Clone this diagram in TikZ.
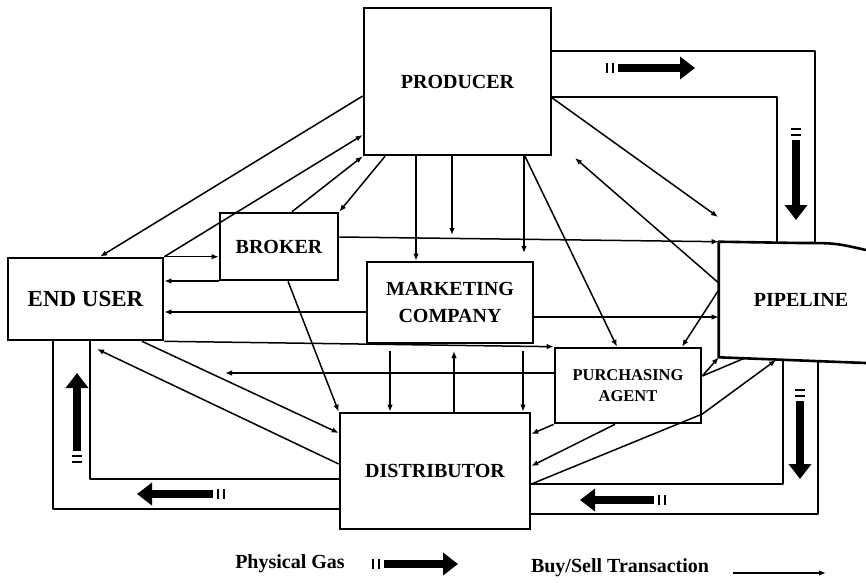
\documentclass[tikz,border=0pt]{standalone}
\usepackage{fontspec}
\setmainfont{Liberation Serif}
\usetikzlibrary{arrows.meta,calc}

% physical gas symbol: two bars at the tail, fat arrow to the head
\newcommand{\gasarrow}[2]{%
    \draw[gas] ($(#1)!12pt!(#2)$) -- (#2);
    \path ($(#1)!1pt!(#2)$) coordinate (gtka) ($(#1)!7pt!(#2)$) coordinate (gtkb);
    \draw[gastick] ($(gtka)!5pt!90:(#2)$) -- ($(gtka)!5pt!-90:(#2)$);
    \draw[gastick] ($(gtkb)!5pt!90:(#2)$) -- ($(gtkb)!5pt!-90:(#2)$);
}

\begin{document}
\begin{tikzpicture}[x=1pt, y=-1pt,
    box/.style={draw, line width=2.6pt, inner sep=0pt, align=center,
        font=\bfseries\fontsize{20}{22}\selectfont},
    link/.style={line width=1.5pt},
    flow/.style={link, -{Latex[length=7pt,width=5.5pt]}},
    chan/.style={line width=2.6pt, line join=round},
    gas/.style={line width=8.5pt, -{Triangle[length=15pt,width=22pt]}},
    gastick/.style={line width=2.5pt}]

    \useasboundingbox (0,0) rectangle (866,582);

    % Boxes
    \node[box, minimum width=187pt, minimum height=147pt] (prod) at (457.5,81.5) {PRODUCER};
    \node[box, minimum width=118pt, minimum height=67pt] (brok) at (279,246.5) {BROKER};
    \node[box, minimum width=155pt, minimum height=82pt,
        font=\bfseries\fontsize{23}{25}\selectfont] (user) at (85.5,299) {END USER};
    \node[box, minimum width=166pt, minimum height=81pt,
        font=\bfseries\fontsize{20}{27}\selectfont] (mkt) at (450,302.5) {MARKETING\\COMPANY};
    \node[box, minimum width=146pt, minimum height=75pt,
        font=\bfseries\fontsize{16.5}{21}\selectfont] (purch) at (628,385.5) {PURCHASING\\AGENT};
    \node[box, minimum width=190pt, minimum height=116pt] (dist) at (435,471) {DISTRIBUTOR};
    \node[box, draw=none, minimum width=162pt, minimum height=113pt] (pipe) at (801,299.5) {PIPELINE};
    \draw[chan] (866,250) .. controls (835,243) .. (800,243) -- (pipe.north west)
        -- (pipe.south west) -- (866,363);

    % Free ends
    \coordinate (bl) at (452,235);
    \coordinate (pm) at (524,253);
    \coordinate (pp) at (718,217);
    \coordinate (pq) at (575,158);
    \coordinate (pa) at (225,373);
    \coordinate (du) at (97,349);
    \coordinate (pb1) at (745,358);
    \coordinate (pb2) at (776,360);
    \coordinate (pb3) at (783,360);
    \coordinate (pb4) at (818,361);
    \foreach \x in {390,454,523}
        \coordinate (m\x) at (\x,351);

    % Gas channels
    \draw[chan] (prod.east |- 0,51) -| (pipe.north -| 815,0);
    \draw[chan] (prod.east |- 0,97) -| (pipe.north -| 777,0);
    \draw[chan] (dist.east |- 0,484) -| (pb3);
    \draw[chan] (dist.east |- 0,514) -| (pb4);
    \draw[chan] (user.south -| 90,0) |- (dist.west |- 0,479);
    \draw[chan] (user.south -| 53,0) |- (dist.west |- 0,509);

    % Producer
    \draw[flow] (prod.west |- 0,96) -- (user.north -| 100,0);
    \draw[flow] (user.north east) -- (prod.west |- 0,135);
    \draw[flow] (brok.north -| 292,0) -- (prod.south west);
    \draw[flow] (prod.south -| 385,0) -- (brok.north east);
    \draw[flow] (prod.south -| 416,0) -- (mkt.north -| 416,0);
    \draw[flow] (prod.south -| 452,0) -- (bl);
    \draw[flow] (prod.south -| 524,0) -- (pm);
    \draw[flow] (prod.south -| 525,0) -- (purch.north -| 617,0);
    \draw[flow] (prod.east |- 0,98) -- (pp);

    % Broker and end user
    \draw[flow] (user.north east) -- (brok.west |- user.north east);
    \draw[flow] (brok.west |- 0,281) -- (user.east |- 0,281);
    \draw[flow] (brok.east |- 0,237) -- (pipe.north west);
    \draw[flow] (brok.south -| 288,0) -- (dist.north west);

    % Marketing company
    \draw[flow] (mkt.west |- 0,312) -- (user.east |- 0,312);
    \draw[flow] (mkt.east |- 0,317) -- (pipe.west |- 0,317);
    \draw[flow] (user.south east) -- (purch.north west);
    \draw[flow] (m390) -- (dist.north -| 390,0);
    \draw[flow] (dist.north -| 454,0) -- (m454);
    \draw[flow] (m523) -- (dist.north -| 523,0);

    % Pipeline and purchasing agent
    \draw[flow] (pipe.west |- 0,283) -- (pq);
    \draw[flow] (pipe.west |- 0,290) -- (purch.north -| 682,0);
    \draw[flow] (purch.east |- 0,376) -- (pipe.south west);
    \draw[link] (purch.east |- 0,376) -- (pb1);
    \draw[flow] (dist.east |- 0,484) -- (purch.east |- 0,414) -- (pb2);
    \draw[flow] (purch.west |- 0,373) -- (pa);
    \draw[flow] (purch.south west) -- (dist.east |- 0,434);
    \draw[flow] (purch.south -| 615,0) -- (dist.east |- 0,466);

    % Distributor and end user
    \draw[flow] (user.south -| 142,0) -- (dist.west |- 0,433);
    \draw[flow] (dist.west |- 0,464) -- (du);

    % Physical gas arrows
    \foreach \tx/\ty/\hx/\hy in {606/68/695/68, 796/128/796/220, 800/389/800/479,
        666/500/580/500, 225/494/137/494, 77/463/77/373, 372/564/458/564} {
        \gasarrow{\tx,\ty}{\hx,\hy}
    }

    % Legend
    \node[font=\bfseries\fontsize{20}{22}\selectfont] (lgas) at (290,564) {Physical Gas};
    \node[font=\bfseries\fontsize{20}{22}\selectfont] (lbuy) at (620,568) {Buy/Sell Transaction};
    \coordinate (ls) at (733,573);
    \coordinate (le) at (826,573);
    \draw[flow] (ls) -- (le);

\end{tikzpicture}
\end{document}
